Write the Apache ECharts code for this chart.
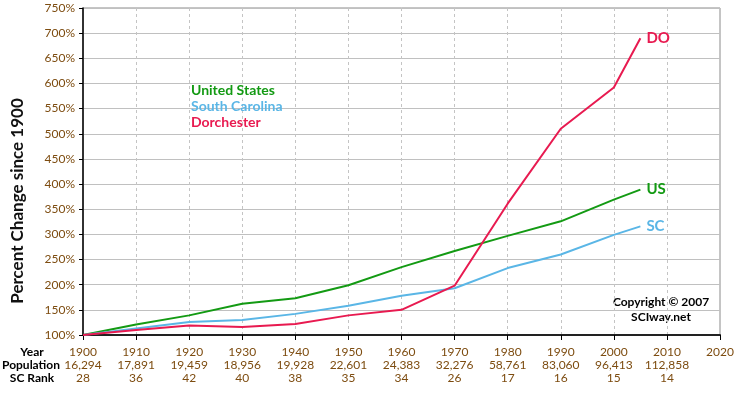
<!DOCTYPE html>
<html>
<head>
<meta charset="utf-8">
<script src="https://cdn.jsdelivr.net/npm/echarts@6/dist/echarts.min.js"></script>
<style>
  html, body { margin: 0; padding: 0; background: #fff; }
  #chart { width: 750px; height: 400px; }
</style>
</head>
<body>
<div id="chart"></div>
<script>
// ---------- data ----------
var years = [1900, 1910, 1920, 1930, 1940, 1950, 1960, 1970, 1980, 1990, 2000, 2005];
var usPct = [100, 121, 139, 162, 173, 199, 235, 267, 297, 326, 369, 389];
var scPct = [100, 113, 126, 130, 142, 158, 178, 193, 233, 260, 299, 316];
var doPct = [100, 110, 119, 116, 122, 139, 150, 198, 361, 510, 592, 690];

var tickYears = [1900, 1910, 1920, 1930, 1940, 1950, 1960, 1970, 1980, 1990, 2000, 2010, 2020];
var tickPop = [16294, 17891, 19459, 18956, 19928, 22601, 24383, 32276, 58761, 83060, 96413, 112858, null];
var tickRank = [28, 36, 42, 40, 38, 35, 34, 26, 17, 16, 15, 14, null];

var seriesNames = ['United States', 'South Carolina', 'Dorchester'];
var endNames = ['US', 'SC', 'DO'];

(function () {
  'use strict';

  var FONT = 'Lato, "DejaVu Sans", sans-serif';
  var green = '#139a13';
  var blue = '#5ab6e6';
  var red = '#e81a50';
  var brown = '#7d4c10';

  function pairs(vals) {
    return years.map(function (y, i) { return [y, vals[i]]; });
  }

  function fmtPop(n) {
    return n == null ? '' : n.toLocaleString('en-US');
  }

  function lineSeries(name, vals, color, endName) {
    return {
      name: name,
      type: 'line',
      data: pairs(vals),
      symbol: 'none',
      lineStyle: { color: color, width: 2 },
      itemStyle: { color: color },
      endLabel: {
        show: true,
        formatter: endName,
        color: color,
        fontFamily: FONT,
        fontWeight: 'bold',
        fontSize: 15,
        distance: 6
      }
    };
  }

  var chart = echarts.init(document.getElementById('chart'));

  var option = {
    animation: false,
    backgroundColor: '#fff',
    grid: {
      left: 83, right: 30, top: 8, bottom: 65,
      show: true, borderColor: '#8a8a8a', borderWidth: 1
    },
    legend: {
      orient: 'vertical',
      left: 181,
      top: 78,
      icon: 'none',
      itemWidth: 0,
      itemHeight: 10,
      itemGap: 2,
      selectedMode: false,
      data: [
        { name: seriesNames[0], textStyle: { color: green } },
        { name: seriesNames[1], textStyle: { color: blue } },
        { name: seriesNames[2], textStyle: { color: red } }
      ],
      textStyle: { fontFamily: FONT, fontWeight: 'bold', fontSize: 14 }
    },
    xAxis: {
      type: 'value',
      min: 1900,
      max: 2020,
      interval: 10,
      axisLine: { show: true, lineStyle: { color: '#222', width: 2 } },
      axisTick: { show: true, length: 5, lineStyle: { color: '#000' } },
      splitLine: { show: true, lineStyle: { color: '#c4c4c4', type: [3, 3] } },
      axisLabel: {
        color: brown,
        fontFamily: FONT,
        fontSize: 12,
        lineHeight: 13,
        margin: 11,
        formatter: function (v) {
          var i = tickYears.indexOf(v);
          if (i < 0) return '';
          var s = String(v);
          if (tickPop[i] != null) s += '\n' + fmtPop(tickPop[i]) + '\n' + tickRank[i];
          else s += '\n\n';
          return s;
        }
      }
    },
    yAxis: {
      type: 'value',
      min: 100,
      max: 750,
      interval: 50,
      axisLine: { show: true, lineStyle: { color: '#000', width: 1.5 } },
      axisTick: { show: true, length: 4, lineStyle: { color: '#000' } },
      splitLine: { show: true, lineStyle: { color: '#c0c0c0', width: 1 } },
      axisLabel: {
        color: brown,
        fontFamily: FONT,
        fontSize: 12,
        margin: 8,
        formatter: '{value}%'
      }
    },
    graphic: [
      { type: 'text', x: 18, y: 201, rotation: Math.PI / 2,
        style: { text: 'Percent Change since 1900', textAlign: 'center', textVerticalAlign: 'middle', fill: '#111', font: 'bold 17px ' + FONT } },
      { type: 'text', x: 32, y: 346, style: { text: 'Year', textAlign: 'center', fill: '#000', font: 'bold 12px ' + FONT } },
      { type: 'text', x: 31, y: 359, style: { text: 'Population', textAlign: 'center', fill: '#000', font: 'bold 12px ' + FONT } },
      { type: 'text', x: 32, y: 372, style: { text: 'SC Rank', textAlign: 'center', fill: '#000', font: 'bold 12px ' + FONT } },
      { type: 'text', x: 661, y: 296, style: { text: 'Copyright \u00a9 2007', textAlign: 'center', fill: '#000', font: 'bold 12px ' + FONT } },
      { type: 'text', x: 661, y: 311, style: { text: 'SCIway.net', textAlign: 'center', fill: '#000', font: 'bold 12px ' + FONT } }
    ],
    series: [
      lineSeries(seriesNames[0], usPct, green, endNames[0]),
      lineSeries(seriesNames[1], scPct, blue, endNames[1]),
      lineSeries(seriesNames[2], doPct, red, endNames[2])
    ]
  };

  chart.setOption(option);
})();
</script>
</body>
</html>
